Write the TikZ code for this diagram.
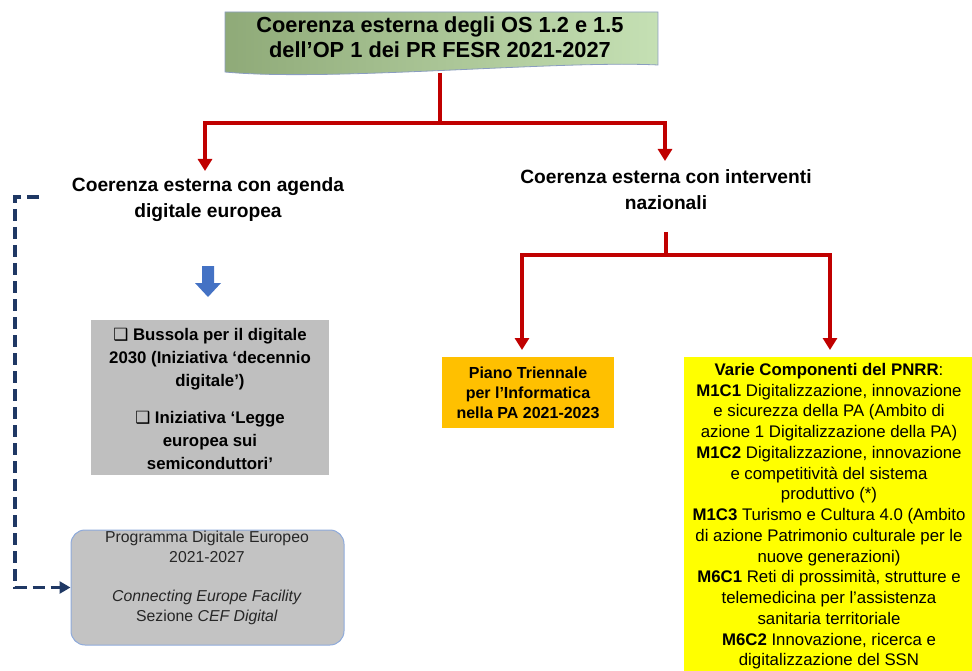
\documentclass[tikz,border=0pt]{standalone}
\usepackage{fontspec}
\setmainfont{Liberation Sans}
\newfontfamily\symfont{DejaVu Sans}
\usetikzlibrary{arrows.meta}
\definecolor{redline}{HTML}{C00000}
\definecolor{navy}{HTML}{1F3864}
\definecolor{bluearrow}{HTML}{4472C4}
\definecolor{greenA}{HTML}{8FAA78}
\definecolor{greenB}{HTML}{C5E0B4}
\definecolor{greybox}{HTML}{BFBFBF}
\definecolor{orangebox}{HTML}{FFC000}
\definecolor{yellowbox}{HTML}{FFFF00}
\definecolor{roundborder}{HTML}{8EAADB}
\definecolor{roundfill}{HTML}{C3C3C3}
\begin{document}
\begin{tikzpicture}[x=1pt,y=-1pt,
  redconn/.style={draw=redline,line width=3.2pt},
  redarr/.style={redconn,-{Triangle[width=14pt,length=12pt]}},
  dashconn/.style={draw=navy,line width=3.8pt,dash pattern=on 12pt off 6pt,-{Triangle[width=12pt,length=11pt]}},
  heading/.style={font=\bfseries\fontsize{19.2}{26}\selectfont,align=center,inner sep=0pt},
  plain/.style={inner sep=0pt,align=center}]
\useasboundingbox (0,0) rectangle (972,671);
% top box
\shade[left color=greenA,right color=greenB,draw=roundborder!70!gray,line width=0.8pt]
  (225,12) -- (658,12) -- (658,65) .. controls (560,60) and (330,82) .. (225,72) -- cycle;
\node[plain,font=\bfseries\fontsize{21.8}{25}\selectfont] (top) at (440,37.5)
  {Coerenza esterna degli OS 1.2 e 1.5\\dell’OP 1 dei PR FESR 2021-2027};
\coordinate (topout) at (440,73);
\coordinate (split1) at (440,123);
\node[heading] (left) at (208,199.5) {Coerenza esterna con agenda\\digitale europea};
\node[heading] (right) at (666,190) {Coerenza esterna con interventi\\nazionali};
\coordinate (leftin) at (205,171);
\coordinate (rightin) at (665,161);
\draw[redconn] (topout) -- (split1);
\draw[redarr] (split1) -| (leftin);
\draw[redarr] (split1) -| (rightin);
% second split
\coordinate (rout) at (666,232);
\coordinate (split2) at (666,255);
\node[fill=orangebox,minimum width=172pt,minimum height=71pt,inner sep=0pt] (piano) at (528,392) {};
\node[plain,font=\bfseries\fontsize{16}{20}\selectfont] at (528,393)
  {Piano Triennale\\per l’Informatica\\nella PA 2021-2023};
\node[fill=yellowbox,minimum width=288pt,minimum height=314pt,inner sep=0pt,anchor=north west] (pnrr) at (684,357) {};
\node[plain,anchor=north,font=\fontsize{16.8}{20.75}\selectfont] at (829,363)
  {\textbf{Varie Componenti del PNRR}:\\
   \textbf{M1C1} Digitalizzazione, innovazione\\
   e sicurezza della PA (Ambito di\\
   azione 1 Digitalizzazione della PA)\\
   \textbf{M1C2} Digitalizzazione, innovazione\\
   e competitività del sistema\\
   produttivo (*)\\
   \textbf{M1C3} Turismo e Cultura 4.0 (Ambito\\
   di azione Patrimonio culturale per le\\
   nuove generazioni)\\
   \textbf{M6C1} Reti di prossimità, strutture e\\
   telemedicina per l’assistenza\\
   sanitaria territoriale\\
   \textbf{M6C2} Innovazione, ricerca e\\
   digitalizzazione del SSN};
\coordinate (pianoin) at (522,350);
\coordinate (pnrrin) at (830,350);
\draw[redconn] (rout) -- (split2);
\draw[redarr] (split2) -| (pianoin);
\draw[redarr] (split2) -| (pnrrin);
% blue block arrow
\fill[bluearrow] (202,266) -- (214,266) -- (214,283) -- (221,283) -- (208,297) -- (195,283) -- (202,283) -- cycle;
% grey box
\node[fill=greybox,minimum width=238pt,minimum height=155pt,inner sep=0pt] (bussola) at (210,397.5) {};
\node[plain,font=\bfseries\fontsize{16.8}{23}\selectfont] at (210,399)
  {{\mdseries\symfont ❑} Bussola per il digitale\\
   2030 (Iniziativa ‘decennio\\
   digitale’)\\[14pt]
   {\mdseries\symfont ❑} Iniziativa ‘Legge\\
   europea sui\\
   semiconduttori’};
% rounded box
\node[fill=roundfill,draw=roundborder,line width=1pt,rounded corners=14pt,minimum width=273pt,minimum height=115pt,inner sep=0pt] (pde) at (207.5,587.5) {};
\node[plain,anchor=north,font=\fontsize{15.8}{20}\selectfont,text=black!85] at (207,531)
  {Programma Digitale Europeo\\
   2021-2027\\[19pt]
   \textit{Connecting Europe Facility}\\
   Sezione \textit{CEF Digital}};
% dashed connector
\coordinate (dstart) at (39,197);
\draw[dashconn] (dstart) -- (15,197) |- (pde.west);
\end{tikzpicture}
\end{document}
